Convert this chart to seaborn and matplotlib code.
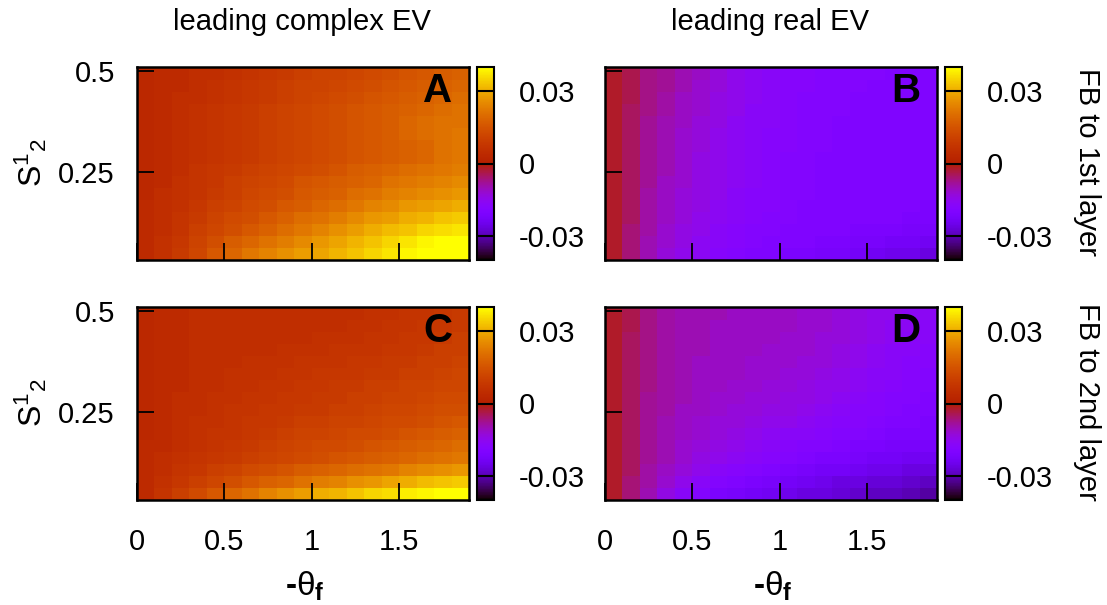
import numpy as np
import pandas as pd
import matplotlib
matplotlib.use("Agg")
import matplotlib.pyplot as plt
import seaborn as sns

# ---------------- data ----------------
theta_f = [0.05, 0.15, 0.25, 0.35, 0.45, 0.55, 0.65, 0.75, 0.85, 0.95,
           1.05, 1.15, 1.25, 1.35, 1.45, 1.55, 1.65, 1.75, 1.85]
s12 = [0.494, 0.464, 0.433, 0.403, 0.372, 0.342, 0.312, 0.281,
       0.251, 0.220, 0.190, 0.160, 0.129, 0.099, 0.068, 0.038]

x_ticks = [0, 0.5, 1, 1.5]
y_ticks = [0.5, 0.25]
cbar_ticks = [-0.03, 0, 0.03]
s_range = (0.029, 0.511)
x_range = (0.0, 1.9)
value_scale = 1e-3

col_titles = ["leading complex EV", "leading real EV"]
row_titles = ["FB to 1st layer", "FB to 2nd layer"]
panel_letters = ["A", "B", "C", "D"]

# leading complex EV, FB to 1st layer (units of 1e-3)
panel_a = [
    [3, 4, 4, 5, 5, 6, 7, 8, 9, 10, 11, 11, 12, 13, 14, 15, 16, 17, 18],
    [3, 4, 4, 5, 6, 7, 8, 9, 10, 11, 11, 12, 13, 14, 15, 16, 17, 18, 19],
    [3, 4, 5, 5, 6, 7, 8, 9, 10, 11, 12, 13, 14, 15, 16, 17, 18, 19, 20],
    [3, 4, 5, 6, 7, 8, 9, 10, 11, 12, 13, 14, 15, 16, 17, 18, 19, 20, 21],
    [3, 4, 5, 6, 7, 8, 9, 10, 11, 12, 13, 14, 15, 16, 17, 19, 20, 21, 21],
    [3, 4, 5, 6, 7, 8, 9, 10, 11, 12, 13, 14, 15, 16, 17, 19, 20, 21, 22],
    [3, 4, 5, 6, 7, 8, 9, 10, 11, 12, 13, 14, 15, 16, 17, 18, 19, 21, 22],
    [3, 4, 5, 6, 7, 8, 9, 10, 11, 12, 13, 14, 15, 16, 17, 18, 19, 21, 22],
    [3, 4, 5, 7, 8, 9, 10, 11, 12, 13, 14, 15, 17, 18, 19, 20, 21, 22, 23],
    [3, 4, 6, 7, 8, 10, 11, 12, 13, 15, 16, 17, 18, 19, 21, 22, 23, 24, 25],
    [3, 5, 6, 7, 9, 10, 12, 13, 14, 16, 17, 18, 20, 21, 23, 24, 25, 26, 27],
    [4, 5, 6, 8, 10, 11, 13, 14, 16, 17, 19, 20, 22, 24, 25, 27, 28, 29, 30],
    [4, 5, 7, 9, 11, 13, 14, 16, 18, 20, 21, 23, 25, 27, 28, 30, 31, 33, 34],
    [4, 5, 7, 10, 12, 14, 16, 18, 20, 22, 24, 26, 28, 30, 32, 33, 35, 36, 37],
    [4, 6, 8, 11, 14, 17, 19, 21, 23, 25, 27, 29, 31, 33, 35, 37, 39, 41, 42],
    [4, 6, 9, 12, 16, 19, 22, 24, 26, 28, 29, 31, 33, 35, 37, 39, 42, 44, 45],
]

# leading real EV, FB to 1st layer
panel_b = [
    [-2, -4, -7, -8, -10, -11, -13, -15, -16, -17, -18, -18, -19, -19, -19, -19, -20, -20, -20],
    [-2, -4, -7, -8, -10, -12, -13, -15, -16, -17, -18, -18, -19, -19, -19, -20, -20, -20, -20],
    [-2, -4, -7, -9, -11, -12, -14, -15, -16, -17, -18, -19, -19, -19, -20, -20, -20, -20, -20],
    [-2, -5, -7, -9, -11, -12, -14, -15, -17, -17, -18, -19, -19, -19, -20, -20, -20, -20, -20],
    [-2, -5, -8, -10, -11, -13, -14, -16, -17, -17, -18, -19, -19, -20, -20, -20, -20, -20, -20],
    [-2, -5, -8, -10, -12, -13, -15, -16, -17, -18, -18, -19, -19, -20, -20, -20, -20, -20, -20],
    [-2, -5, -8, -10, -12, -13, -15, -16, -17, -18, -18, -19, -19, -20, -20, -20, -20, -20, -20],
    [-2, -5, -8, -10, -12, -14, -15, -16, -17, -18, -19, -19, -20, -20, -20, -20, -20, -20, -20],
    [-2, -5, -8, -10, -12, -14, -15, -16, -17, -18, -19, -19, -20, -20, -20, -20, -20, -20, -20],
    [-2, -5, -8, -11, -12, -14, -15, -16, -17, -18, -19, -19, -20, -20, -20, -20, -20, -20, -20],
    [-2, -5, -9, -11, -13, -14, -15, -17, -18, -18, -19, -19, -20, -20, -20, -20, -20, -20, -20],
    [-2, -5, -9, -11, -13, -14, -16, -17, -18, -18, -19, -20, -20, -20, -20, -20, -20, -20, -21],
    [-2, -5, -9, -11, -13, -15, -16, -17, -18, -19, -19, -20, -20, -20, -20, -20, -20, -21, -21],
    [-2, -6, -9, -12, -14, -15, -17, -18, -19, -19, -20, -20, -20, -20, -21, -21, -21, -22, -22],
    [-2, -6, -10, -12, -14, -16, -17, -18, -19, -20, -20, -20, -21, -21, -22, -22, -23, -23, -24],
    [-2, -6, -10, -13, -15, -16, -18, -19, -20, -20, -21, -21, -22, -22, -23, -24, -25, -25, -26],
]

# leading complex EV, FB to 2nd layer
panel_c = [
    [3, 4, 4, 5, 5, 5, 5, 5, 5, 5, 5, 5, 5, 6, 6, 7, 7, 8, 9],
    [3, 4, 4, 5, 5, 5, 5, 5, 5, 5, 5, 5, 6, 6, 7, 7, 8, 8, 9],
    [3, 4, 4, 5, 5, 5, 5, 5, 5, 5, 6, 6, 6, 7, 7, 8, 8, 9, 10],
    [3, 4, 4, 5, 5, 5, 5, 5, 6, 6, 6, 7, 7, 7, 8, 8, 9, 10, 10],
    [3, 4, 4, 5, 5, 5, 6, 6, 6, 7, 7, 7, 8, 8, 9, 9, 10, 10, 11],
    [3, 4, 4, 5, 5, 6, 6, 6, 7, 7, 8, 8, 8, 9, 9, 10, 10, 11, 12],
    [3, 4, 4, 5, 5, 6, 6, 7, 7, 8, 8, 9, 9, 10, 10, 11, 11, 12, 12],
    [3, 4, 5, 5, 6, 6, 7, 7, 8, 8, 9, 9, 10, 10, 11, 11, 12, 13, 13],
    [3, 4, 5, 5, 6, 7, 7, 8, 8, 9, 9, 10, 10, 11, 12, 12, 13, 14, 14],
    [3, 4, 5, 6, 6, 7, 8, 8, 9, 10, 10, 11, 11, 12, 13, 13, 14, 15, 16],
    [3, 4, 5, 6, 7, 7, 8, 9, 10, 11, 11, 12, 13, 13, 14, 15, 16, 17, 18],
    [4, 4, 5, 6, 7, 8, 9, 10, 11, 12, 13, 13, 14, 15, 16, 17, 18, 19, 20],
    [4, 5, 6, 7, 8, 9, 10, 11, 12, 13, 14, 15, 16, 17, 18, 19, 20, 21, 22],
    [4, 5, 7, 8, 10, 11, 13, 14, 15, 17, 18, 19, 20, 21, 22, 24, 25, 26, 27],
    [4, 6, 8, 10, 12, 14, 16, 18, 19, 21, 23, 24, 26, 27, 29, 30, 32, 33, 34],
    [4, 7, 10, 13, 16, 19, 21, 24, 26, 28, 30, 31, 33, 35, 36, 38, 39, 41, 43],
]

# leading real EV, FB to 2nd layer
panel_d = [
    [-2, -4, -7, -9, -10, -10, -10, -11, -11, -11, -11, -12, -12, -13, -14, -15, -15, -16, -16],
    [-2, -4, -7, -9, -10, -10, -11, -11, -11, -11, -11, -12, -12, -13, -14, -15, -16, -16, -17],
    [-2, -5, -7, -9, -10, -10, -11, -11, -11, -11, -12, -12, -13, -13, -14, -15, -16, -17, -17],
    [-2, -5, -7, -9, -10, -10, -11, -11, -11, -12, -12, -12, -13, -14, -15, -16, -17, -17, -18],
    [-2, -5, -7, -9, -10, -11, -11, -11, -12, -12, -12, -13, -13, -14, -15, -16, -17, -18, -18],
    [-2, -5, -7, -9, -10, -11, -11, -11, -12, -12, -13, -13, -14, -15, -16, -17, -17, -18, -19],
    [-2, -5, -7, -9, -10, -11, -11, -12, -12, -13, -13, -14, -15, -15, -16, -17, -18, -19, -19],
    [-2, -5, -8, -9, -10, -11, -12, -12, -13, -13, -14, -14, -15, -16, -17, -18, -19, -19, -20],
    [-2, -5, -8, -9, -11, -11, -12, -13, -13, -14, -14, -15, -16, -17, -18, -18, -19, -20, -20],
    [-2, -5, -8, -10, -11, -12, -13, -13, -14, -15, -15, -16, -17, -18, -18, -19, -20, -20, -21],
    [-2, -5, -8, -10, -11, -12, -13, -14, -15, -16, -17, -17, -18, -19, -19, -20, -21, -21, -21],
    [-2, -5, -8, -10, -12, -13, -14, -15, -16, -17, -18, -19, -19, -20, -21, -21, -22, -22, -22],
    [-2, -5, -8, -10, -12, -14, -15, -16, -17, -18, -19, -20, -21, -21, -22, -23, -23, -24, -24],
    [-2, -5, -9, -11, -13, -15, -17, -18, -19, -20, -21, -22, -23, -23, -24, -25, -25, -26, -26],
    [-2, -6, -9, -12, -15, -17, -19, -20, -21, -22, -23, -24, -25, -26, -26, -27, -27, -28, -29],
    [-2, -6, -10, -14, -17, -19, -21, -22, -23, -24, -25, -26, -26, -27, -28, -29, -29, -30, -31],
]

# ---------------- style ----------------
sns.set_theme(style="white")
plt.rcParams["font.family"] = ["Liberation Sans", "DejaVu Sans"]
plt.rcParams["mathtext.fontset"] = "custom"
plt.rcParams["mathtext.rm"] = "Liberation Sans"
plt.rcParams["mathtext.it"] = "Liberation Sans:italic"
plt.rcParams["mathtext.bf"] = "Liberation Sans:bold"
plt.rcParams["mathtext.default"] = "regular"
plt.rcParams["text.color"] = "black"
plt.rcParams["axes.labelcolor"] = "black"
plt.rcParams["xtick.color"] = "black"
plt.rcParams["ytick.color"] = "black"
plt.rcParams["axes.axisbelow"] = False

FS = 21
W, H = 1107, 605
fig = plt.figure(figsize=(W / 100, H / 100), dpi=100)


def frac(left, top, right, bottom):
    return [left / W, 1 - bottom / H, (right - left) / W, (bottom - top) / H]


def hx(t):
    # theta value -> heatmap column coordinate
    d = theta_f[1] - theta_f[0]
    return (t - theta_f[0]) / d + 0.5


def hy(s):
    # S value -> heatmap row coordinate (rows top->bottom)
    d = s12[0] - s12[1]
    return (s12[0] - s) / d + 0.5


panels = [panel_a, panel_b, panel_c, panel_d]
cols_px = [(137, 469, 477, 494), (605, 937, 945, 962)]
rows_px = [(67, 260), (307, 500)]

for r in range(2):
    for c in range(2):
        idx = r * 2 + c
        left, right, cl, cr = cols_px[c]
        top, bottom = rows_px[r]
        ax = fig.add_axes(frac(left, top, right, bottom))
        cax = fig.add_axes(frac(cl, top, cr, bottom))
        df = pd.DataFrame(np.array(panels[idx]) * value_scale, index=s12, columns=theta_f)
        sns.heatmap(df, ax=ax, cmap="gnuplot", vmin=-0.04, vmax=0.04,
                    cbar_ax=cax, xticklabels=False, yticklabels=False)
        ax.set_axisbelow(False)
        ax.set_xlim(hx(x_range[0]), hx(x_range[1]))
        ax.set_ylim(hy(s_range[0]), hy(s_range[1]))
        ax.set_xticks([hx(t) for t in x_ticks])
        ax.set_yticks([hy(t) for t in y_ticks])
        ax.set_xticklabels([f"{t:g}" for t in x_ticks] if r == 1 else [])
        ax.set_yticklabels([f"{t:g}" for t in y_ticks] if c == 0 else [])
        ax.set_xlabel("")
        ax.set_ylabel("")
        for sp in ax.spines.values():
            sp.set_visible(True)
            sp.set_color("black")
            sp.set_linewidth(1.8)
            sp.set_zorder(5)
        ax.tick_params(axis="both", direction="in", length=12.5, width=1.3,
                       color="black", labelsize=FS, labelcolor="black",
                       left=True, bottom=True, top=False, right=False)
        ax.tick_params(axis="y", pad=16)
        ax.tick_params(axis="x", pad=20)
        for tl in ax.get_xticklines() + ax.get_yticklines():
            tl.set_zorder(6)
        ax.text(0.95, 0.82, panel_letters[idx], transform=ax.transAxes,
                ha="right", va="baseline", fontsize=29, fontweight="bold",
                color="black")

        cbar = ax.collections[0].colorbar
        cbar.set_ticks(cbar_ticks)
        cbar.set_ticklabels([f"{t:g}" for t in cbar_ticks])
        cbar.outline.set_visible(True)
        cbar.outline.set_edgecolor("black")
        cbar.outline.set_linewidth(1.5)
        cax.tick_params(length=0, labelsize=FS, pad=18, labelcolor="black")
        for t in cbar_ticks:
            cax.axhline(t, color="black", lw=1.5)

# x labels
for cx in (305, 773):
    fig.text(cx / W, 1 - 596 / H, "-$\\mathrm{\\theta}_{\\mathbf{f}}$",
             ha="center", va="baseline", fontsize=FS + 3, fontweight="bold")

# column titles
fig.text(302 / W, 1 - 30 / H, col_titles[0], ha="center", va="baseline", fontsize=FS)
fig.text(770 / W, 1 - 30 / H, col_titles[1], ha="center", va="baseline", fontsize=FS)
# row labels on right
fig.text(1087 / W, 1 - 162 / H, row_titles[0], rotation=270, ha="center", va="center", fontsize=FS)
fig.text(1087 / W, 1 - 402 / H, row_titles[1], rotation=270, ha="center", va="center", fontsize=FS)
# y labels
for cy in (163, 403):
    fig.text(31 / W, 1 - cy / H, "S$^{1}$$_{2}$", rotation=90, ha="center",
             va="center", fontsize=FS + 2)

fig.savefig("out.png", dpi=100)
